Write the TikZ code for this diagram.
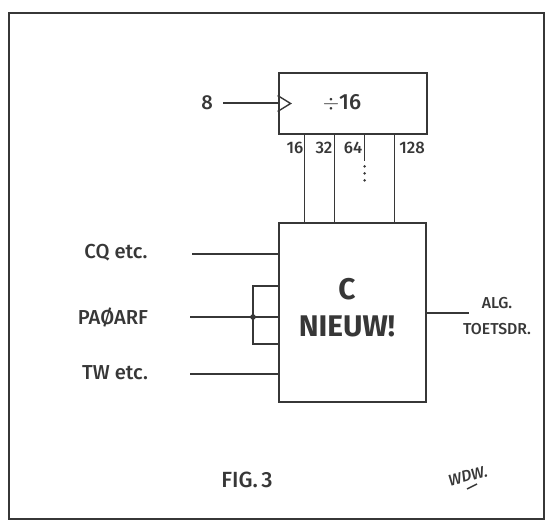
\documentclass[tikz,border=0pt]{standalone}
\usepackage{fontspec}
\setmainfont{Fira Sans}[UprightFont=* Medium, BoldFont=* Bold]
\usepackage{tikz}
\definecolor{ink}{RGB}{55,55,55}
\tikzset{
  blok/.style={rectangle, draw=ink, line width=1.6pt, inner sep=0pt},
  lijn/.style={draw=ink, line width=0.8pt},
  lab/.style={text=ink, inner sep=1pt, font=\fontsize{11.5}{13}\selectfont},
  pin/.style={text=ink, inner sep=1pt, font=\fontsize{9.5}{11}\selectfont}
}
\begin{document}
\begin{tikzpicture}[x=0.02cm, y=-0.02cm]
                    \useasboundingbox (0,0) rectangle (546,521);
                    % Frame
                    \draw[ink, line width=1.4pt] (9,13) rectangle (544,519);
                    % Nodes
                    \node[blok, minimum width=2.96cm, minimum height=1.22cm] (div) at (353,103.5) {};
                    \node[text=ink, font=\fontsize{12.5}{14}\selectfont] (divtxt) at (342,103) {$\div$16};
                    \node[blok, minimum width=2.94cm, minimum height=3.58cm] (cnt) at (352.5,312.5) {};
                    \node[text=ink, font=\bfseries\fontsize{17}{20}\selectfont, align=center] (cnttxt) at (347,308) {C\\[1pt]NIEUW!};
                    \node[lab] (acht) at (207,103) {8};
                    \node[lab] (cq) at (116,253) {CQ etc.};
                    \node[lab] (pa) at (113,317) {PAØARF};
                    \node[lab] (tw) at (115,373) {TW etc.};
                    \node[lab, align=center, font=\fontsize{9}{15}\selectfont] (alg) at (497,316) {ALG.\\TOETSDR.};
                    \node[pin] (p16) at (295,148) {16};
                    \node[pin] (p32) at (324,148) {32};
                    \node[pin] (p64) at (353,148) {64};
                    \node[pin] (p128) at (412,148) {128};
                    \node[lab, font=\fontsize{12.5}{14}\selectfont] (fig) at (247,480) {FIG.\,3};
                    \node[lab, rotate=15, font=\itshape\fontsize{9}{11}\selectfont] (wdw) at (468,476) {WDW.};
                    % Coordinates
                    \coordinate (inacht) at (223,103);
                    \coordinate (incq) at (192,254);
                    \coordinate (inpa) at (190,317);
                    \coordinate (intw) at (190,374);
                    \coordinate (knoop) at (253,317);
                    \coordinate (uit) at (469,313);
                    % Edges
                    \draw[lijn] (inacht) -- (inacht -| div.west);
                    \draw[lijn] ([yshift=0.16cm]div.west) -- ++(0.26cm,-0.16cm) -- ([yshift=-0.16cm]div.west);
                    \foreach \dx in {27,57,117}
                      \draw[lijn] ([xshift=\dx*0.02cm]div.south west) -- ([xshift=\dx*0.02cm]cnt.north west);
                    \draw[lijn] ([xshift=1.74cm]div.south west) -- ++(0,-0.52cm);
                    \foreach \dy in {0.62,0.76,0.90}
                      \fill[ink] ([xshift=1.74cm, yshift=-\dy cm]div.south west) circle (0.8pt);
                    \draw[lijn] (incq) -- (incq -| cnt.west);
                    \draw[lijn] (inpa) -- (inpa -| cnt.west);
                    \draw[lijn] (intw) -- (intw -| cnt.west);
                    \draw[lijn] ([yshift=0.62cm]knoop -| cnt.west) -| (knoop) |- ([yshift=-0.54cm]knoop -| cnt.west);
                    \fill[ink] (knoop) circle (1.6pt);
                    \draw[lijn] (uit -| cnt.east) -- (uit);
                    \draw[ink, line width=0.8pt] ([xshift=-0.02cm, yshift=-0.26cm]wdw.center) -- ++(0.2cm,0.1cm);
                \end{tikzpicture}
\end{document}
